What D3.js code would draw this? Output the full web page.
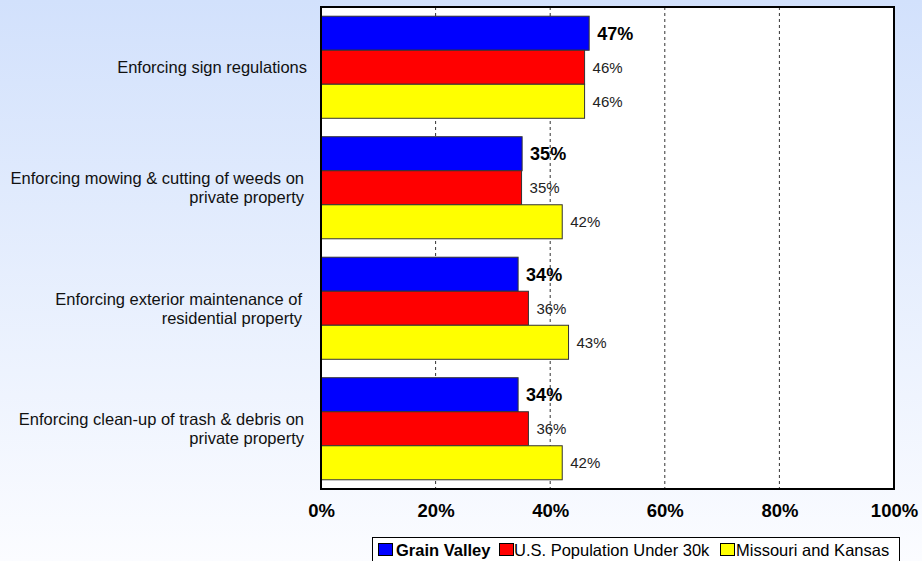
<!DOCTYPE html>
<html><head><meta charset="utf-8">
<script src="https://cdn.jsdelivr.net/npm/d3@7/dist/d3.min.js"></script>
<style>html,body{margin:0;padding:0;overflow:hidden;}svg{display:block;font-family:"Liberation Sans",Arial,sans-serif;}</style>
</head><body>
<svg id="c" width="922" height="561"></svg>
<script>
const categories = [
  ["Enforcing sign regulations"],
  ["Enforcing mowing & cutting of weeds on", "private property"],
  ["Enforcing exterior maintenance of", "residential property"],
  ["Enforcing clean-up of trash & debris on", "private property"]
];
const seriesNames = ["Grain Valley", "U.S. Population Under 30k", "Missouri and Kansas"];
const seriesColors = ["#0000ff", "#ff0000", "#ffff00"];
const grainValley = [46.8, 35.1, 34.4, 34.4];
const usUnder30k = [46.0, 35.0, 36.2, 36.2];
const missouriKansas = [46.0, 42.1, 43.2, 42.1];
const tickValues = [0, 20, 40, 60, 80, 100];
const tickLabels = ["0%", "20%", "40%", "60%", "80%", "100%"];

const series = [grainValley, usUnder30k, missouriKansas];
const svg = d3.select("#c");
const W = 922, H = 561;
const defs = svg.append("defs");
const grad = defs.append("linearGradient").attr("id","bg").attr("x1",0).attr("y1",0).attr("x2",0).attr("y2",1);
grad.append("stop").attr("offset","0%").attr("stop-color","#d2e1fc");
grad.append("stop").attr("offset","100%").attr("stop-color","#fbfcff");
svg.append("rect").attr("width",W).attr("height",H).attr("fill","url(#bg)");

const L = 321, R = 894, T = 7, B = 489;
const x = d3.scaleLinear().domain([0,100]).range([L,R]);
const y = d3.scaleBand().domain(d3.range(categories.length)).range([T,B]).paddingInner(0.153).paddingOuter(0.0765);
const ySub = d3.scaleBand().domain(d3.range(series.length)).range([0,y.bandwidth()]);

svg.append("rect").attr("x",L).attr("y",T).attr("width",R-L).attr("height",B-T).attr("fill","#fff");

// gridlines
svg.append("g").selectAll("line").data(tickValues.filter(v=>v>0&&v<100)).join("line")
  .attr("x1",d=>x(d)).attr("x2",d=>x(d)).attr("y1",T).attr("y2",B)
  .attr("stroke","#333").attr("stroke-width",1).attr("stroke-dasharray","3,3");

// bars
const g = svg.append("g");
series.forEach((vals, si) => {
  g.append("g").selectAll("rect").data(vals).join("rect")
    .attr("x", x(0))
    .attr("y", (d,i)=>y(i)+ySub(si))
    .attr("width", d=>x(d)-x(0))
    .attr("height", ySub.bandwidth())
    .attr("fill", seriesColors[si])
    .attr("stroke", "#333").attr("stroke-width", 1);
  g.append("g").selectAll("text").data(vals).join("text")
    .attr("x", d=>x(d)+8)
    .attr("y", (d,i)=>y(i)+ySub(si)+ySub.bandwidth()/2)
    .attr("dy","0.35em")
    .attr("font-size", si===0?18:15)
    .attr("font-weight", si===0?"bold":"normal")
    .attr("fill", si===0?"#000":"#222")
    .text(d=>Math.round(d)+"%");
});

// frame
svg.append("rect").attr("x",L).attr("y",T).attr("width",R-L).attr("height",B-T)
  .attr("fill","none").attr("stroke","#000").attr("stroke-width",2);

// category labels
const labelRight = [307, 304, 302, 304];
categories.forEach((lines,i)=>{
  const cy = y(i)+y.bandwidth()/2;
  const lh = 19;
  const t = svg.append("text").attr("text-anchor","end").attr("font-size",16.5).attr("fill","#111");
  lines.forEach((ln,k)=>{
    t.append("tspan").attr("x",labelRight[i]).attr("y", cy + (k-(lines.length-1)/2)*lh).attr("dy","0.35em").text(ln);
  });
});

// x axis
const xAxis = d3.axisBottom(x).tickValues(tickValues).tickFormat((d,i)=>tickLabels[i]).tickSize(0).tickPadding(0);
const ax = svg.append("g").attr("transform",`translate(0,${B})`).call(xAxis);
ax.select(".domain").remove();
ax.selectAll("text").attr("font-size",18.5).attr("font-weight","bold").attr("fill","#000")
  .attr("font-family","Liberation Sans, Arial, sans-serif").attr("y",22).attr("dy","0.35em");

// legend
const lg = svg.append("g");
lg.append("rect").attr("x",372.5).attr("y",537.5).attr("width",527).attr("height",30).attr("fill","#fff").attr("stroke","#000");
const items = [{x:378,tx:396,bold:true},{x:499,tx:514,bold:false},{x:720,tx:736,bold:false}];
seriesNames.forEach((n,i)=>{
  lg.append("rect").attr("x",items[i].x+0.5).attr("y",543.5).attr("width",14).attr("height",12)
    .attr("fill",seriesColors[i]).attr("stroke","#000");
  lg.append("text").attr("x",items[i].tx).attr("y",550).attr("dy","0.35em")
    .attr("font-size",16.5).attr("font-weight",items[i].bold?"bold":"normal").attr("fill","#000").text(n);
});
</script>
</body></html>
